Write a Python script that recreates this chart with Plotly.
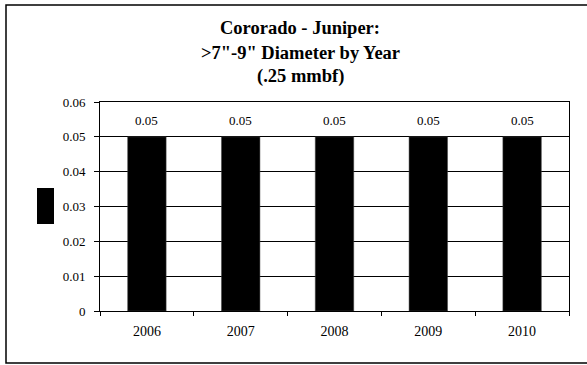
import plotly.graph_objects as go

years = ["2006", "2007", "2008", "2009", "2010"]
values = [0.05, 0.05, 0.05, 0.05, 0.05]
value_labels = ["0.05", "0.05", "0.05", "0.05", "0.05"]
y_ticks = [0, 0.01, 0.02, 0.03, 0.04, 0.05, 0.06]
y_tick_text = ["0", "0.01", "0.02", "0.03", "0.04", "0.05", "0.06"]
title_lines = ["Cororado - Juniper:", ">7\"-9\" Diameter by Year", "(.25 mmbf)"]

FONT = "Liberation Serif, Times New Roman, serif"
W, H = 587, 365
L, R, T, B = 100, 18, 102, 54
pw, ph = W - L - R, H - T - B

def px_x(x):
    return (x - L) / pw

def px_y(y):
    return (H - B - y) / ph

fig = go.Figure()
fig.add_trace(go.Bar(
    x=years, y=values,
    marker=dict(color="black", line=dict(color="#444444", width=0.5)),
    width=0.41,
    showlegend=False,
    hoverinfo="skip",
))

annotations = []
for i, (v, lab) in enumerate(zip(values, value_labels)):
    annotations.append(dict(
        x=i, y=v, xref="x", yref="y", text=lab, showarrow=False,
        yshift=16, font=dict(family=FONT, size=13, color="black"),
    ))

title_y = [28, 53, 77]
for line, yy in zip(title_lines, title_y):
    annotations.append(dict(
        x=px_x(300), y=px_y(yy), xref="paper", yref="paper",
        text="<b>" + line + "</b>", showarrow=False,
        xanchor="center", yanchor="middle",
        font=dict(family=FONT, size=18.5, color="black"),
    ))

shapes = [
    dict(type="rect", xref="paper", yref="paper",
         x0=px_x(6), x1=px_x(600), y0=px_y(363), y1=px_y(5),
         line=dict(color="black", width=1.5), fillcolor="rgba(0,0,0,0)", layer="below"),
    dict(type="rect", xref="paper", yref="paper",
         x0=px_x(37), x1=px_x(54), y0=px_y(224), y1=px_y(188),
         line=dict(color="black", width=0), fillcolor="black"),
]

fig.update_layout(
    width=W, height=H,
    margin=dict(l=L, r=R, t=T, b=B, pad=0),
    paper_bgcolor="white", plot_bgcolor="white",
    font=dict(family=FONT, size=13, color="black"),
    annotations=annotations,
    shapes=shapes,
    showlegend=False,
    bargap=0.59,
)
fig.update_xaxes(
    type="category", range=[-0.5, len(years) - 0.5], autorange=False,
    showline=True, linecolor="black", linewidth=1, mirror=True,
    ticks="outside", tickson="boundaries", ticklen=4, tickcolor="black",
    showgrid=False, tickfont=dict(family=FONT, size=14), tickangle=0,
    ticklabelstandoff=7,
)
fig.update_yaxes(
    range=[0, 0.06], tickvals=y_ticks, ticktext=y_tick_text,
    showline=True, linecolor="black", linewidth=1, mirror=True,
    ticks="outside", ticklen=5, tickcolor="black",
    showgrid=True, gridcolor="black", gridwidth=1,
    zeroline=False, tickfont=dict(family=FONT, size=13),
    ticklabelstandoff=6,
)

fig.write_html(
    "out.html",
    config={"displayModeBar": False},
    post_script="document.body.style.margin='0';document.body.style.overflow='hidden';",
)
